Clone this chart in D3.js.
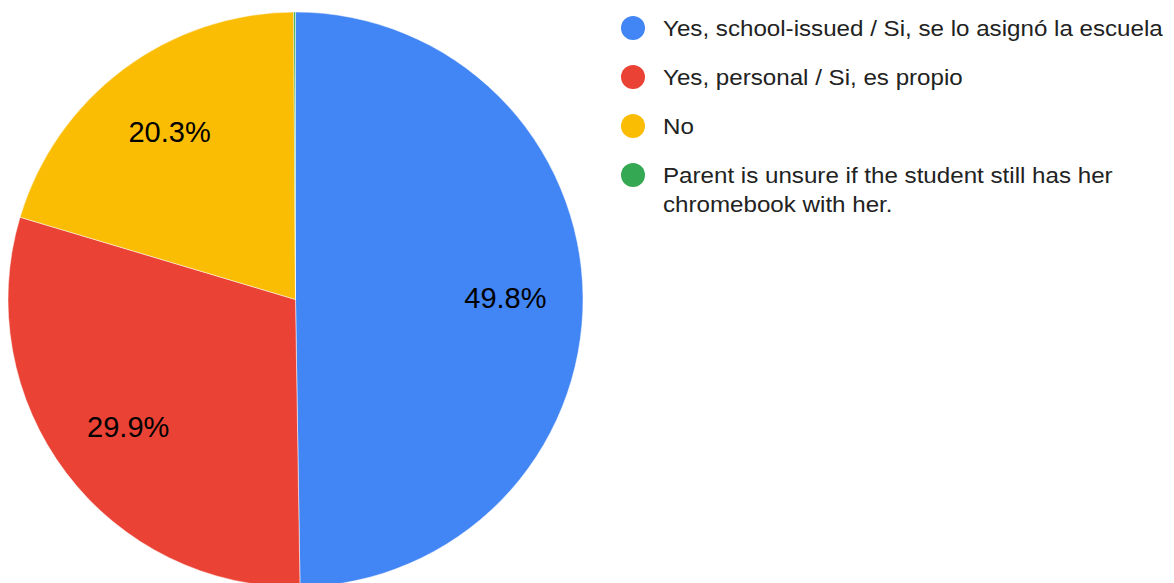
<!DOCTYPE html>
<html>
<head>
<meta charset="utf-8">
<script src="https://cdn.jsdelivr.net/npm/d3@7"></script>
<style>
  html, body { margin: 0; padding: 0; background: #fff; }
  svg { display: block; font-family: Arial, "Liberation Sans", sans-serif; }
</style>
</head>
<body>
<svg id="chart" width="1174" height="583"></svg>
<script>
// Survey answers: does the student have a chromebook?
const categories = [
  "Yes, school-issued / Si, se lo asignó la escuela",
  "Yes, personal / Si, es propio",
  "No",
  "Parent is unsure if the student still has her chromebook with her."
];
const legendLines = [
  ["Yes, school-issued / Si, se lo asignó la escuela"],
  ["Yes, personal / Si, es propio"],
  ["No"],
  ["Parent is unsure if the student still has her", "chromebook with her."]
];
const values = [49.8, 29.9, 20.3, 0.1];
const colors = ["#4285f4", "#ea4335", "#fbbc04", "#34a853"];

const svg = d3.select("#chart");
const cx = 295.5, cy = 299.5, radius = 287.5;

const data = categories.map((c, i) => ({ name: c, value: values[i], color: colors[i] }));

const pie = d3.pie().value(d => d.value).sort(null);
const arcs = pie(data);

const arc = d3.arc().innerRadius(0).outerRadius(radius);
const labelR = radius * 0.73;
const labelArc = d3.arc().innerRadius(labelR).outerRadius(labelR);

const g = svg.append("g").attr("transform", `translate(${cx},${cy})`);

g.selectAll("path.slice")
  .data(arcs)
  .join("path")
  .attr("class", "slice")
  .attr("d", arc)
  .attr("fill", d => d.data.color)
  .attr("stroke", "#fff")
  .attr("stroke-width", 0.5);

// Percentage labels only on slices large enough to hold them
g.selectAll("text.pct")
  .data(arcs.filter(d => d.data.value >= 5))
  .join("text")
  .attr("class", "pct")
  .attr("transform", d => `translate(${labelArc.centroid(d)})`)
  .attr("text-anchor", "middle")
  .attr("dy", "0.36em")
  .attr("font-size", 29)
  .attr("fill", "#000")
  .text(d => d.data.value.toFixed(1) + "%");

// Legend
const legend = svg.append("g").attr("transform", "translate(633,28)");
const item = legend.selectAll("g.item")
  .data(data)
  .join("g")
  .attr("class", "item")
  .attr("transform", (d, i) => `translate(0,${i * 49})`);

item.append("circle")
  .attr("r", 12)
  .attr("fill", d => d.color);

item.append("text")
  .attr("transform", "translate(30,0) scale(1.098,1)")
  .attr("font-size", 22)
  .attr("fill", "#222")
  .selectAll("tspan")
  .data((d, i) => legendLines[i])
  .join("tspan")
  .attr("x", 0)
  .attr("y", (d, j) => 8 + j * 29)
  .text(d => d);
</script>
</body>
</html>
